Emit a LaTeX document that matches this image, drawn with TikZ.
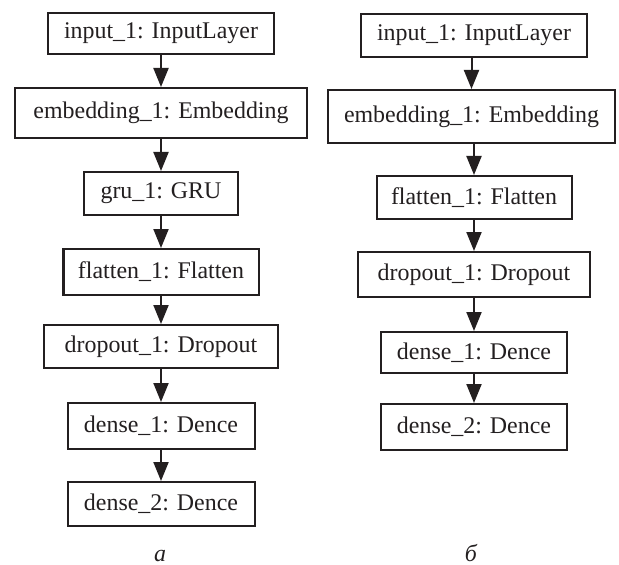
\documentclass[tikz,border=0pt]{standalone}
\usepackage{fontspec}
\setmainfont{Liberation Serif}
\usetikzlibrary{arrows.meta}
\definecolor{ink}{HTML}{231F20}
\begin{document}
\begin{tikzpicture}[x=1bp,y=-1bp,
  layer/.style={draw=ink, line width=2bp, fill=white, inner sep=0pt,
    font=\fontsize{24}{28}\selectfont, text=ink},
  flow/.style={draw=ink, line width=2bp, -{Triangle[length=19bp,width=15bp]}},
  caption/.style={anchor=base, inner sep=0pt, outer sep=0pt,
    font=\fontsize{24}{28}\selectfont\itshape, text=ink}]
\useasboundingbox (0,0) rectangle (619,565);

% model (a): with GRU layer
\node[layer, minimum width=226bp, minimum height=41bp] (la1) at (161,33.5)  {input\_1: InputLayer};
\node[layer, minimum width=292bp, minimum height=50bp] (la2) at (161,113)   {embedding\_1: Embedding};
\node[layer, minimum width=154bp, minimum height=43bp] (la3) at (161,193.5) {gru\_1: GRU};
\node[layer, minimum width=195bp, minimum height=46bp] (la4) at (161,272)   {flatten\_1: Flatten};
\node[layer, minimum width=233bp, minimum height=43bp] (la5) at (161,346.5) {dropout\_1: Dropout};
\node[layer, minimum width=187bp, minimum height=46bp] (la6) at (161,426)   {dense\_1: Dence};
\node[layer, minimum width=187bp, minimum height=44bp] (la7) at (161,504)   {dense\_2: Dence};
\foreach \i/\j in {1/2,2/3,3/4,4/5,5/6,6/7}
  \draw[flow] (la\i.south) -- (la\j.north);
\node[caption] (capa) at (160,561) {а};

% model (b): without GRU layer
\node[layer, minimum width=226bp, minimum height=43bp] (lb1) at (474,35.5)  {input\_1: InputLayer};
\node[layer, minimum width=287bp, minimum height=53bp] (lb2) at (471.5,116.5) {embedding\_1: Embedding};
\node[layer, minimum width=195bp, minimum height=43bp] (lb3) at (474,197.5) {flatten\_1: Flatten};
\node[layer, minimum width=232bp, minimum height=45bp] (lb4) at (474,274.5) {dropout\_1: Dropout};
\node[layer, minimum width=186bp, minimum height=41bp] (lb5) at (474,352.5) {dense\_1: Dence};
\node[layer, minimum width=186bp, minimum height=46bp] (lb6) at (474,427)   {dense\_2: Dence};
\foreach \i/\j in {1/2,2/3,3/4,4/5,5/6}
  \draw[flow] (lb\i.south -| lb\j.north) -- (lb\j.north);
\node[caption] (capb) at (471,561) {б};
\end{tikzpicture}
\end{document}
